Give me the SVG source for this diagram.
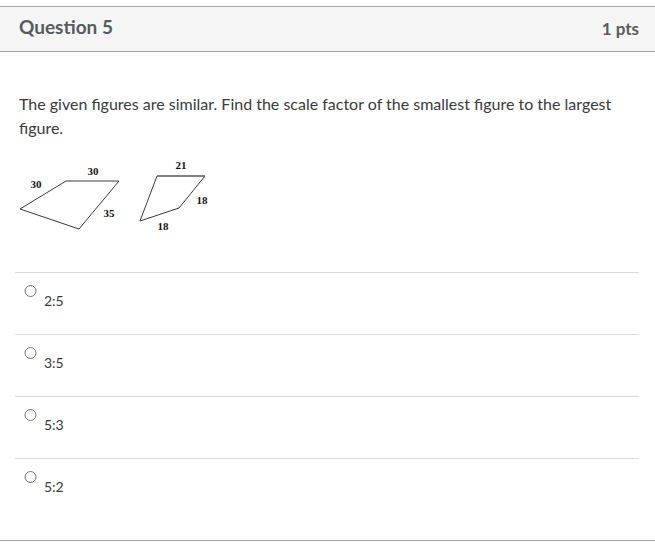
<svg xmlns="http://www.w3.org/2000/svg" width="655" height="553" viewBox="0 0 655 553">
<style>
.hdr{font-family:Lato,"Liberation Sans",sans-serif;font-size:19px;font-weight:bold;fill:#555b60}
.pts{font-family:Lato,"Liberation Sans",sans-serif;font-size:17px;font-weight:bold;fill:#555b60}
.body{font-family:Lato,"Liberation Sans",sans-serif;font-size:16px;fill:#3a3a3a}
.opt{font-family:Lato,"Liberation Sans",sans-serif;font-size:14px;fill:#3a3a3a}
.fig{font-family:"Liberation Serif",serif;font-size:11px;font-weight:bold;fill:#111;text-anchor:middle}
.sep{stroke:#dcdcdc;stroke-width:1}
.radio{fill:#fff;stroke:#777;stroke-width:1}
.shape{fill:none;stroke:#222;stroke-width:0.9}
</style>
<rect x="0" y="0" width="655" height="553" fill="#fff"/>
<g id="header">
<rect x="0" y="6" width="655" height="45" fill="#f5f5f5"/>
<line x1="0" y1="6.5" x2="655" y2="6.5" stroke="#a5a5a5"/>
<line x1="0" y1="51.5" x2="655" y2="51.5" stroke="#a5a5a5"/>
<text class="hdr" x="19" y="34">Question 5</text>
<text class="pts" x="639" y="35" text-anchor="end">1 pts</text>
</g>
<g id="question">
<text class="body" x="19" y="110">The given figures are similar. Find the scale factor of the smallest figure to the largest</text>
<text class="body" x="19" y="134">figure.</text>
</g>
<g id="figure-large">
<polygon class="shape" points="20,209 66,181 119,181 79,229"/>
<text class="fig" x="36" y="188">30</text>
<text class="fig" x="93" y="175">30</text>
<text class="fig" x="109" y="217">35</text>
</g>
<g id="figure-small">
<polygon class="shape" points="157,176 205,176 179,208 140,221"/>
<line x1="157" y1="176" x2="205" y2="176" stroke="#666" stroke-width="1.2"/>
<text class="fig" x="181" y="169">21</text>
<text class="fig" x="202" y="204">18</text>
<text class="fig" x="163" y="230">18</text>
</g>
<g id="connectors"></g>
<g id="options">
<line class="sep" x1="15" y1="272.5" x2="639" y2="272.5"/>
<g id="opt1"><circle class="radio" cx="30.5" cy="291" r="5.5"/><text class="opt" x="44" y="306">2:5</text></g>
<line class="sep" x1="15" y1="334.5" x2="639" y2="334.5"/>
<g id="opt2"><circle class="radio" cx="30.5" cy="353" r="5.5"/><text class="opt" x="44" y="368">3:5</text></g>
<line class="sep" x1="15" y1="396.5" x2="639" y2="396.5"/>
<g id="opt3"><circle class="radio" cx="30.5" cy="415" r="5.5"/><text class="opt" x="44" y="430">5:3</text></g>
<line class="sep" x1="15" y1="458.5" x2="639" y2="458.5"/>
<g id="opt4"><circle class="radio" cx="30.5" cy="477" r="5.5"/><text class="opt" x="44" y="492">5:2</text></g>
</g>
<line x1="0" y1="540.5" x2="655" y2="540.5" stroke="#a5a5a5"/>
</svg>
